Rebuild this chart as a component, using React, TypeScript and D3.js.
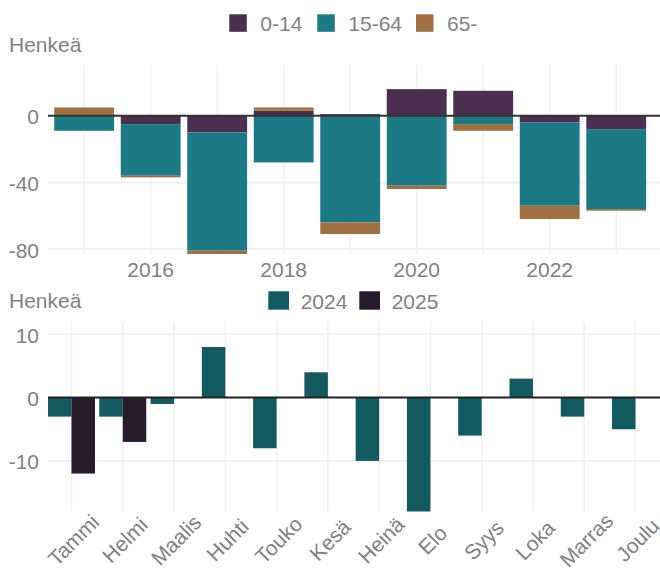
import * as d3 from 'd3';

const years = [2015, 2016, 2017, 2018, 2019, 2020, 2021, 2022, 2023];
const ageGroups = ['0-14', '15-64', '65-'];
const age0to14 = [0, -5, -10, 3, 1, 16, 15, -4, -8];
const age15to64 = [-9, -31, -71, -28, -64, -42, -5, -50, -48];
const age65plus = [5, -1, -2, 2, -7, -2, -4, -8, -1];
const topTicks = [-80, -40, 0];
const yearLabels = [2016, 2018, 2020, 2022];

const months = ['Tammi', 'Helmi', 'Maalis', 'Huhti', 'Touko', 'Kesä', 'Heinä', 'Elo', 'Syys', 'Loka', 'Marras', 'Joulu'];
const seriesYears = ['2024', '2025'];
const values2024 = [-3, -3, -1, 8, -8, 4, -10, -18, -6, 3, -3, -5];
const values2025 = [-12, -7, null, null, null, null, null, null, null, null, null, null];
const bottomTicks = [-10, 0, 10];

const W = 660, H = 570;
const PL = 48, PR = 660;
const FONT = '"Liberation Sans", Arial, sans-serif';
const TEXT = '#828282';
const GRID = '#f0f0f0';
const AGE_COLORS = ['#4a2f4e', '#1b7a86', '#a07042'];
const YEAR_COLORS = ['#135960', '#261b2a'];

// top chart
const T_TOP = 65, T_BOT = 254;
const rows = years.map((yr, i) => ({
  year: yr,
  '0-14': age0to14[i],
  '15-64': age15to64[i],
  '65-': age65plus[i],
}));
const stacked = d3.stack<any>().keys(ageGroups).offset(d3.stackOffsetDiverging)(rows);
const xTop = d3.scaleBand<number>().domain(years).range([50.95, 649.45]).paddingInner(0.1).paddingOuter(0.05);
const yTop = d3.scaleLinear().domain([-83, 30.5]).range([T_BOT, T_TOP]);

// bottom chart
const B_TOP = 321.7, B_BOT = 511.5;
const xBot = d3.scaleBand<string>().domain(months).range([45.85, 661.15]).paddingInner(0.084).paddingOuter(0.042);
const xSub = d3.scaleBand<string>().domain(seriesYears).range([0, xBot.bandwidth()]);
const yBot = d3.scaleLinear().domain([-18, 12]).range([B_BOT, B_TOP]);
const monthSeries = [values2024, values2025];

const topLegendX = [229.3, 317.3, 416];
const botLegendX = [268.3, 359.3];

export default function App() {
  return (
    <svg width={W} height={H} style={{ position: 'absolute', left: 0, top: 0, background: '#fff' }} fontFamily={FONT}>
      {/* ---- top chart ---- */}
      {ageGroups.map((k, i) => (
        <g key={k}>
          <rect x={topLegendX[i]} y={14.3} width={17.5} height={17.5} fill={AGE_COLORS[i]} />
          <text x={topLegendX[i] + 31} y={31} fontSize={21} fill={TEXT}>{k}</text>
        </g>
      ))}
      <text x={9} y={52} fontSize={21} fill={TEXT}>Henkeä</text>

      {years.map((yr) => (
        <line key={yr} x1={xTop(yr)! + xTop.bandwidth() / 2} x2={xTop(yr)! + xTop.bandwidth() / 2}
          y1={T_TOP} y2={T_BOT} stroke={GRID} strokeWidth={1.5} />
      ))}
      {topTicks.filter((t) => t !== 0).map((t) => (
        <line key={t} x1={PL} x2={PR} y1={yTop(t)} y2={yTop(t)} stroke={GRID} strokeWidth={2} />
      ))}

      {stacked.map((s, i) => (
        <g key={s.key} fill={AGE_COLORS[i]}>
          {s.map((d) => (
            <rect key={d.data.year} x={xTop(d.data.year)} width={xTop.bandwidth()}
              y={yTop(Math.max(d[0], d[1]))} height={Math.abs(yTop(d[0]) - yTop(d[1]))} />
          ))}
        </g>
      ))}
      <line x1={PL} x2={PR} y1={yTop(0)} y2={yTop(0)} stroke="#333" strokeWidth={2} />

      {topTicks.map((t) => (
        <text key={t} x={39} y={yTop(t) + 1} fontSize={21} fill={TEXT} textAnchor="end" dominantBaseline="central">{t}</text>
      ))}
      {yearLabels.map((yr) => (
        <text key={yr} x={xTop(yr)! + xTop.bandwidth() / 2} y={277.3} fontSize={21} fill={TEXT} textAnchor="middle">{yr}</text>
      ))}

      {/* ---- bottom chart ---- */}
      <text x={9} y={308} fontSize={21} fill={TEXT}>Henkeä</text>
      {seriesYears.map((s, i) => (
        <g key={s}>
          <rect x={botLegendX[i]} y={291.3} width={20.7} height={18.4} fill={YEAR_COLORS[i]} />
          <text x={botLegendX[i] + 32.4} y={308.7} fontSize={21} fill={TEXT}>{s}</text>
        </g>
      ))}

      {months.map((m) => (
        <line key={m} x1={xBot(m)! + xBot.bandwidth() / 2} x2={xBot(m)! + xBot.bandwidth() / 2}
          y1={B_TOP} y2={B_BOT} stroke={GRID} strokeWidth={1.5} />
      ))}
      {bottomTicks.filter((t) => t !== 0).map((t) => (
        <line key={t} x1={PL} x2={PR} y1={yBot(t)} y2={yBot(t)} stroke={GRID} strokeWidth={2} />
      ))}

      {monthSeries.map((vals, si) => (
        <g key={seriesYears[si]} fill={YEAR_COLORS[si]}>
          {vals.map((v, mi) => v == null ? null : (
            <rect key={mi} x={xBot(months[mi])! + xSub(seriesYears[si])!} width={xSub.bandwidth()}
              y={yBot(Math.max(0, v))} height={Math.abs(yBot(v) - yBot(0))} />
          ))}
        </g>
      ))}
      <line x1={PL} x2={PR} y1={yBot(0)} y2={yBot(0)} stroke="#222" strokeWidth={2} />

      {bottomTicks.map((t) => (
        <text key={t} x={39} y={yBot(t) + 1} fontSize={21} fill={TEXT} textAnchor="end" dominantBaseline="central">{t}</text>
      ))}
      {months.map((m) => {
        const cx = xBot(m)! + xBot.bandwidth() / 2 + 2;
        return (
          <text key={m} transform={`translate(${cx},540) rotate(-45)`} fontSize={21} fill={TEXT}
            textAnchor="middle" dominantBaseline="central">{m}</text>
        );
      })}
    </svg>
  );
}
